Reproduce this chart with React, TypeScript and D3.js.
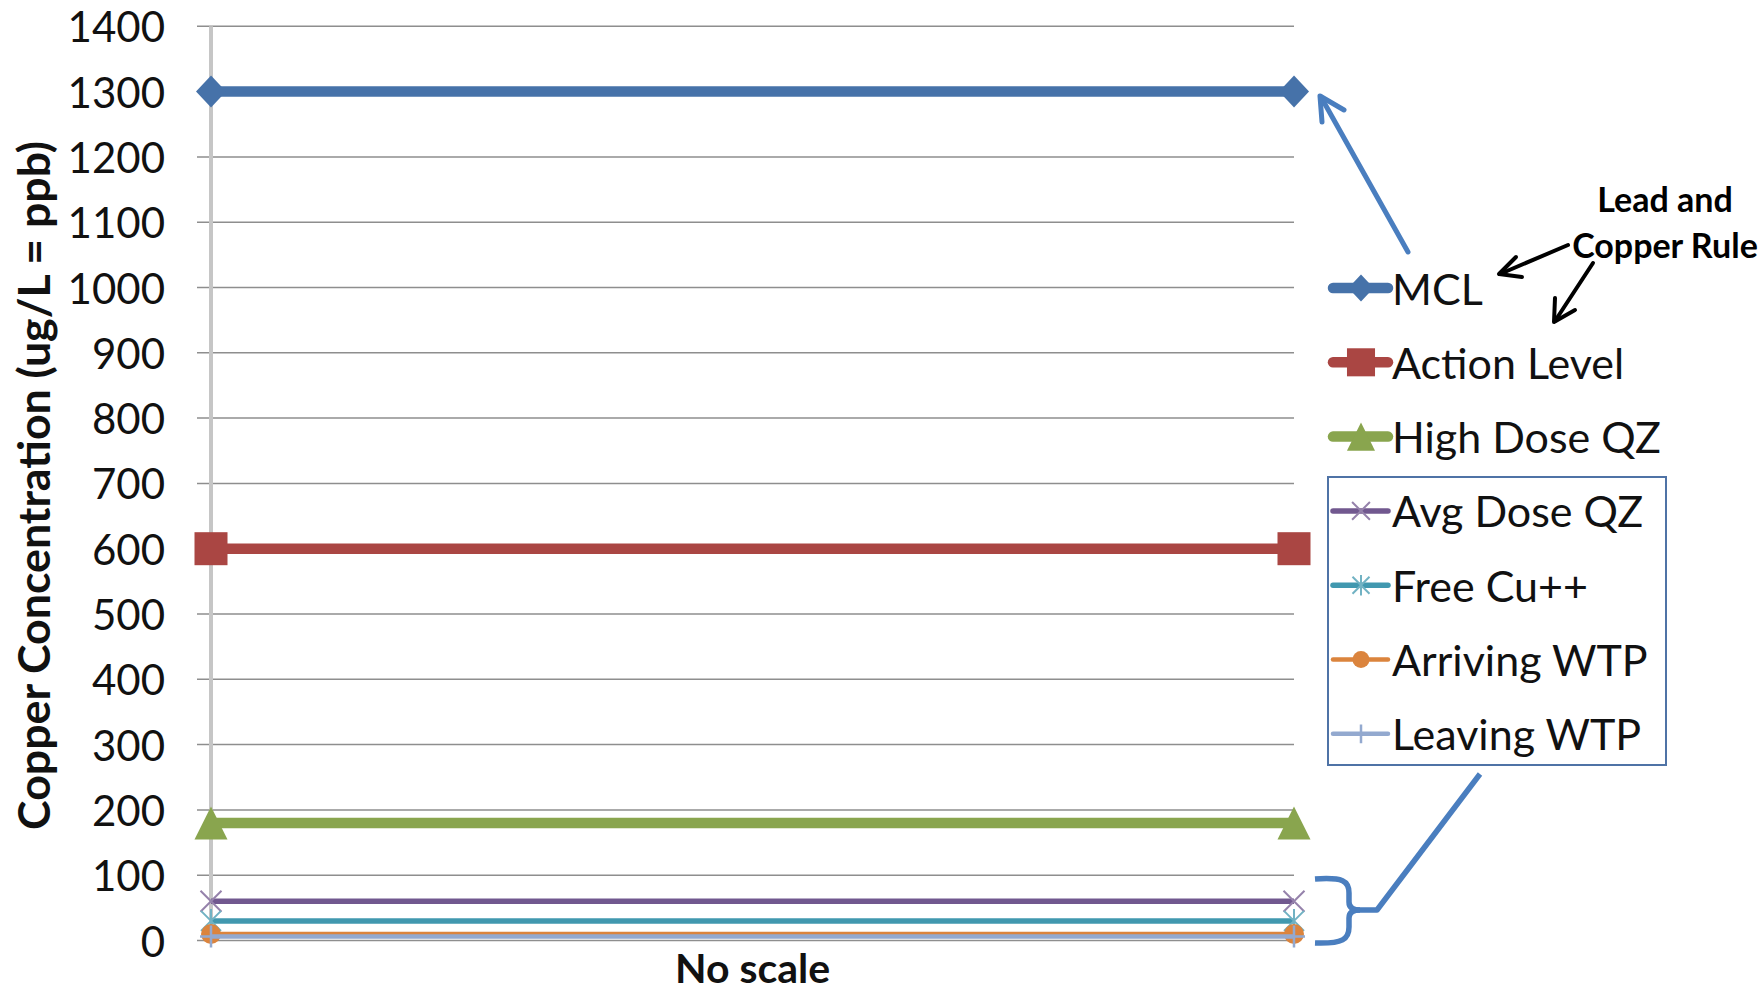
import React from "react";
import * as d3 from "d3";

// Two sampling points on a horizontal axis with no scale
const categories = ["start", "end"];

// Copper concentrations (ug/L = ppb)
const mclValues = [1300, 1300];
const actionLevelValues = [600, 600];
const highDoseValues = [180, 180];
const avgDoseValues = [60, 60];
const freeCuValues = [30, 30];
const arrivingValues = [10, 10];
const leavingValues = [6, 6];

const yTicks = [0, 100, 200, 300, 400, 500, 600, 700, 800, 900, 1000, 1100, 1200, 1300, 1400];

const seriesNames = [
  "MCL",
  "Action Level",
  "High Dose QZ",
  "Avg Dose QZ",
  "Free Cu++",
  "Arriving WTP",
  "Leaving WTP",
];

type Marker = "diamond" | "square" | "triangle" | "x" | "star" | "circle" | "plus";

const series = [
  { name: seriesNames[0], values: mclValues, color: "#4672A9", width: 10.5, marker: "diamond" as Marker },
  { name: seriesNames[1], values: actionLevelValues, color: "#AA4643", width: 10.5, marker: "square" as Marker },
  { name: seriesNames[2], values: highDoseValues, color: "#89A54E", width: 10.5, marker: "triangle" as Marker },
  { name: seriesNames[3], values: avgDoseValues, color: "#71588F", width: 5.5, marker: "x" as Marker },
  { name: seriesNames[4], values: freeCuValues, color: "#4198AF", width: 5.5, marker: "star" as Marker },
  { name: seriesNames[5], values: arrivingValues, color: "#DB843D", width: 4.5, marker: "circle" as Marker },
  { name: seriesNames[6], values: leavingValues, color: "#93A9CF", width: 4.5, marker: "plus" as Marker },
];

const FONT = "Lato, 'Open Sans', sans-serif";

function lighten(c: string, k: number) {
  const col = d3.color(c)!;
  return d3.interpolateRgb(col.formatHex(), "#ffffff")(k);
}

function MarkerShape({ type, cx, cy, color, scale }: { type: Marker; cx: number; cy: number; color: string; scale: number }) {
  const s = scale;
  switch (type) {
    case "diamond": {
      const hw = 15 * s, hh = 16 * s;
      return <path d={`M${cx},${cy - hh}L${cx + hw},${cy}L${cx},${cy + hh}L${cx - hw},${cy}Z`} fill={color} />;
    }
    case "square": {
      const h = 16.5 * s;
      return <rect x={cx - h} y={cy - h} width={2 * h} height={2 * h} fill={color} />;
    }
    case "triangle": {
      const hw = 16.5 * s, hh = 16.5 * s;
      return <path d={`M${cx},${cy - hh}L${cx + hw},${cy + hh}L${cx - hw},${cy + hh}Z`} fill={color} />;
    }
    case "x": {
      const h = 10.5 * s;
      return (
        <path
          d={`M${cx - h},${cy - h}L${cx + h},${cy + h}M${cx - h},${cy + h}L${cx + h},${cy - h}`}
          stroke={lighten(color, 0.25)}
          strokeWidth={2}
          fill="none"
        />
      );
    }
    case "star": {
      const h = 10 * s;
      return (
        <path
          d={`M${cx - h},${cy - h}L${cx + h},${cy + h}M${cx - h},${cy + h}L${cx + h},${cy - h}M${cx},${cy - h * 1.2}L${cx},${cy + h * 1.2}`}
          stroke={lighten(color, 0.25)}
          strokeWidth={2}
          fill="none"
        />
      );
    }
    case "circle":
      return <circle cx={cx} cy={cy} r={10 * s} fill={color} />;
    case "plus": {
      const h = 11 * s;
      return (
        <path
          d={`M${cx - h},${cy}L${cx + h},${cy}M${cx},${cy - h}L${cx},${cy + h}`}
          stroke={color}
          strokeWidth={2.5}
          fill="none"
        />
      );
    }
  }
  return null;
}

export default function App() {
  const x = d3.scalePoint<string>().domain(categories).range([211, 1294]);
  const y = d3.scaleLinear().domain([0, 1400]).range([940.5, 26.3]);

  const line = d3
    .line<number>()
    .x((_, i) => x(categories[i])!)
    .y((d) => y(d));

  const legendX0 = 1333;
  const legendX1 = 1388;
  const legendMarkerX = 1361;
  const legendTextX = 1392;
  const legendY0 = 288;
  const legendStep = 74.3;

  return (
    <svg
      width={1764}
      height={994}
      style={{ position: "absolute", left: 0, top: 0, background: "#fff" }}
      xmlns="http://www.w3.org/2000/svg"
    >
      <rect width={1764} height={994} fill="#fff" />

      {/* horizontal gridlines with outside tick marks */}
      {yTicks.map((t) => (
        <line key={t} x1={197} x2={1294} y1={y(t)} y2={y(t)} stroke="#8e8e8e" strokeWidth={1.5} />
      ))}
      {/* vertical value axis */}
      <line x1={211} x2={211} y1={y(1400)} y2={y(0) + 2} stroke="#c6c6c6" strokeWidth={4} />

      {/* tick labels */}
      {yTicks.map((t) => (
        <text
          key={t}
          x={165}
          y={y(t)}
          textAnchor="end"
          dominantBaseline="central"
          fontFamily={FONT}
          fontSize={42}
          fill="#111"
        >
          {t}
        </text>
      ))}

      {/* axis titles */}
      <text
        transform={`translate(50,${(y(0) + y(1400)) / 2 + 2}) rotate(-90)`}
        textAnchor="middle"
        fontFamily={FONT}
        fontWeight={700}
        fontSize={43}
        textLength={689}
        lengthAdjust="spacingAndGlyphs"
        fill="#111"
      >
        Copper Concentration (ug/L = ppb)
      </text>
      <text
        x={(x(categories[0])! + x(categories[1])!) / 2}
        y={983}
        textAnchor="middle"
        fontFamily={FONT}
        fontWeight={700}
        fontSize={41}
        fill="#111"
      >
        No scale
      </text>

      {/* series lines and markers */}
      {series.map((s) => (
        <g key={s.name}>
          <path d={line(s.values)!} stroke={s.color} strokeWidth={s.width} fill="none" />
          {s.values.map((v, i) => (
            <MarkerShape key={i} type={s.marker} cx={x(categories[i])!} cy={y(v)} color={s.color} scale={1} />
          ))}
        </g>
      ))}

      {/* legend */}
      <rect x={1328} y={477} width={338} height={288} fill="none" stroke="#4F73A6" strokeWidth={2} />
      {series.map((s, i) => {
        const ly = legendY0 + i * legendStep;
        return (
          <g key={s.name}>
            <line x1={legendX0} x2={legendX1} y1={ly} y2={ly} stroke={s.color} strokeWidth={s.width} strokeLinecap="round" />
            <MarkerShape type={s.marker} cx={legendMarkerX} cy={ly} color={s.color} scale={0.85} />
            <text x={legendTextX} y={ly} dominantBaseline="central" fontFamily={FONT} fontSize={43} fill="#111">
              {s.name}
            </text>
          </g>
        );
      })}

      {/* arrow from legend to the MCL line */}
      <g stroke="#4A7EBF" strokeWidth={5} fill="none" strokeLinecap="round" strokeLinejoin="round">
        <line x1={1408} y1={252} x2={1321} y2={97} />
        <path d="M1322,122L1320,96L1344,110" />
      </g>

      {/* brace grouping the low-concentration series, tied to the boxed legend */}
      <g stroke="#4A7EBF" strokeWidth={5.5} fill="none" strokeLinejoin="round">
        <path d="M1315,879C1343,877 1349,881 1349,893L1349,902Q1349,910 1360,910L1377,910L1480,774" />
        <path d="M1315,943C1343,944 1349,939 1349,927L1349,918Q1349,910 1360,910" />
      </g>

      {/* Lead and Copper Rule callout */}
      <text x={1665} y={212} textAnchor="middle" fontFamily={FONT} fontWeight={700} fontSize={34} fill="#000">
        Lead and
      </text>
      <text x={1665} y={258} textAnchor="middle" fontFamily={FONT} fontWeight={700} fontSize={34} fill="#000">
        Copper Rule
      </text>
      <g stroke="#000" strokeWidth={4} fill="none" strokeLinecap="round" strokeLinejoin="round">
        <line x1={1568} y1={245} x2={1500} y2={274} />
        <path d="M1516,257L1499,274L1522,277" />
        <line x1={1593} y1={263} x2={1555} y2={321} />
        <path d="M1555,298L1554,322L1575,310" />
      </g>
    </svg>
  );
}
